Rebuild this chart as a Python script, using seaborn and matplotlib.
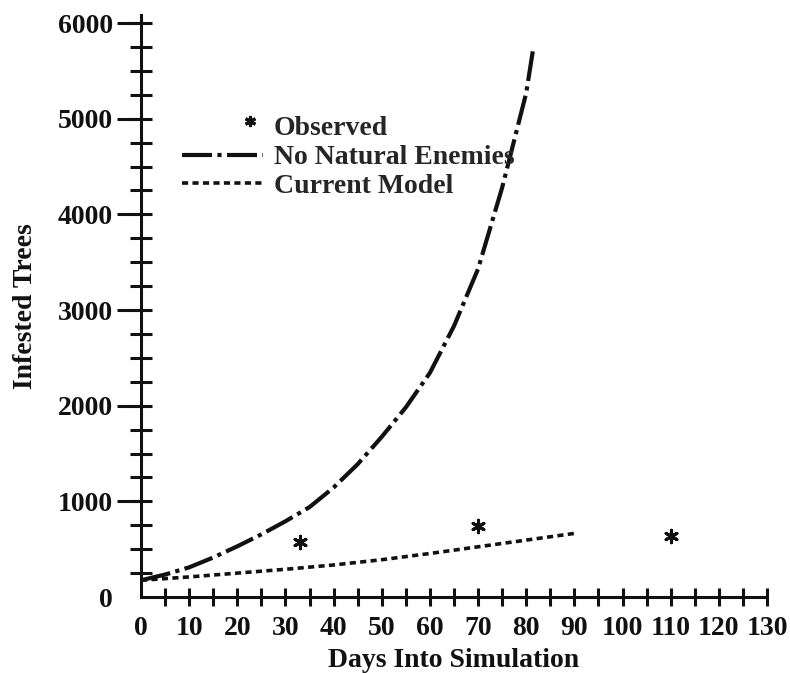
import numpy as np
import pandas as pd
import matplotlib
matplotlib.use("Agg")
import matplotlib.pyplot as plt
import seaborn as sns
from matplotlib.lines import Line2D
from matplotlib.legend_handler import HandlerBase
from matplotlib.ticker import FixedLocator

# values
days_ne = [0, 5, 10, 15, 20, 25, 30, 35, 40, 45, 50, 55, 60, 65, 70, 75, 80, 81.5]
trees_ne = [175, 235, 310, 413, 530, 655, 792, 940, 1145, 1389, 1675, 1983, 2344, 2833, 3431, 4280, 5270, 5750]

days_cm = [0, 10, 20, 30, 40, 50, 60, 70, 80, 90]
trees_cm = [175, 210, 250, 290, 335, 390, 455, 525, 595, 665]

days_obs = [33, 70, 110]
trees_obs = [580, 740, 635]

x_labels = [0, 10, 20, 30, 40, 50, 60, 70, 80, 90, 100, 110, 120, 130]
y_labels = [0, 1000, 2000, 3000, 4000, 5000, 6000]

sns.set_style("ticks")
plt.rcParams["font.family"] = ["Liberation Serif", "DejaVu Serif"]
plt.rcParams["font.weight"] = "bold"
ink = "#111111"

fig = plt.figure(figsize=(7.9, 6.73), dpi=100)
ax = fig.add_axes([0.1785, 0.1129, 0.7924, 0.8648])

ne = pd.DataFrame({"day": days_ne, "trees": trees_ne})
cm = pd.DataFrame({"day": days_cm, "trees": trees_cm})
obs = pd.DataFrame({"day": days_obs, "trees": trees_obs})

dashdot = (0, (7.2, 1.3, 1.0, 1.3))
dotted = (0, (1.7, 1.2))

sns.lineplot(data=ne, x="day", y="trees", ax=ax, color=ink, lw=3,
             linestyle=dashdot, estimator=None, dash_capstyle="butt")
sns.lineplot(data=cm, x="day", y="trees", ax=ax, color=ink, lw=2.6,
             linestyle=dotted, estimator=None, dash_capstyle="butt")
sns.scatterplot(data=obs, x="day", y="trees", ax=ax, marker=(6, 2, 0),
                s=80, color=ink, edgecolor=ink, linewidth=2.2)

ax.set_xlim(0, 130)
ax.set_ylim(0, 6084)
sns.despine(ax=ax)
for sp in ("left", "bottom"):
    ax.spines[sp].set_linewidth(2.2)
    ax.spines[sp].set_color(ink)

ax.set_xticks(x_labels)
ax.set_xticklabels([str(v) for v in x_labels])
ax.xaxis.set_minor_locator(FixedLocator(np.arange(5, 130, 10)))
ax.tick_params(axis="x", which="both", direction="inout", length=13,
               width=2.2, color=ink, labelsize=20, labelcolor=ink, pad=7)

ax.set_yticks(y_labels)
ax.set_yticklabels([str(v) for v in y_labels])
ax.yaxis.remove_overlapping_locs = False
ax.yaxis.set_minor_locator(FixedLocator(np.arange(250, 6001, 250)))
ax.tick_params(axis="y", which="major", direction="out", length=17,
               width=2.2, color=ink, labelsize=20, labelcolor=ink, pad=3)
ax.tick_params(axis="y", which="minor", direction="inout", length=16,
               width=2.2, color=ink)
ax.yaxis.get_major_ticks()[0].tick1line.set_visible(False)
ax.xaxis.get_major_ticks()[0].tick1line.set_visible(False)

ax.set_xlabel("Days Into Simulation", fontsize=20, fontweight="bold",
              color=ink, labelpad=5)
ax.set_ylabel("Infested Trees", fontsize=20, fontweight="bold", color=ink)
ax.yaxis.set_label_coords(-0.165, 0.5)


# the asterisk sits at the right end of its legend slot, a little raised
class RightMarker(HandlerBase):
    def create_artists(self, legend, orig_handle, xdescent, ydescent,
                       width, height, fontsize, trans):
        m = Line2D([width - xdescent - 9], [height * 0.72 - ydescent])
        self.update_prop(m, orig_handle, legend)
        m.set_transform(trans)
        return [m]


h_obs = Line2D([], [], ls="none", marker=(6, 2, 0), ms=8, mew=2.2, color=ink)
h_ne = Line2D([], [], color=ink, lw=3, linestyle=dashdot, dash_capstyle="butt")
h_cm = Line2D([], [], color=ink, lw=2.6, linestyle=dotted, dash_capstyle="butt")
fig.legend([h_obs, h_ne, h_cm],
           ["Observed", "No Natural Enemies", "Current Model"],
           loc="upper left", bbox_to_anchor=(182 / 790, 1 - 116 / 673),
           frameon=False, borderpad=0, borderaxespad=0, handlelength=2.9,
           handletextpad=0.4, labelspacing=0.12,
           prop={"family": "Liberation Serif", "weight": "bold", "size": 20},
           handler_map={h_obs: RightMarker()})

fig.savefig("out.png", dpi=100, facecolor="white")
